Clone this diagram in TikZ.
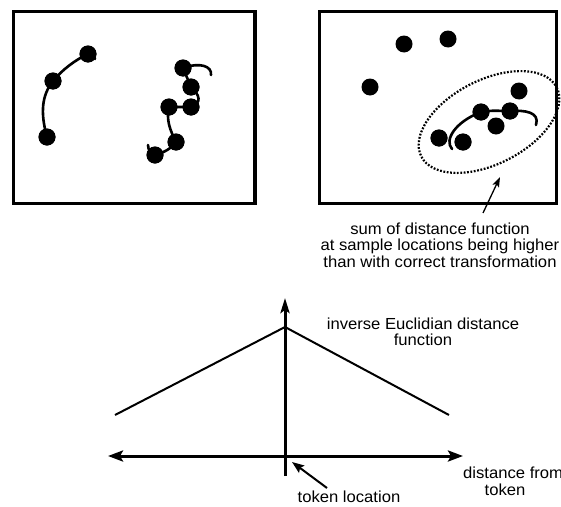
\documentclass[tikz,border=0pt]{standalone}
\usepackage{fontspec}
\setmainfont{Liberation Sans}[FakeStretch=1.04]
\usetikzlibrary{arrows.meta}
\begin{document}
\begin{tikzpicture}[x=1pt,y=-1pt,
  frame/.style={line width=3.2pt},
  blob/.style={circle,fill=black,inner sep=0pt,minimum size=17pt},
  curvy/.style={line width=2.6pt,line cap=round},
  axis/.style={line width=3pt},
  fline/.style={line width=2pt},
  bighead/.style={-{Stealth[length=15pt,width=9pt,inset=3pt]}},
  bothheads/.style={{Stealth[length=15pt,width=11pt,inset=3pt]}-{Stealth[length=15pt,width=11pt,inset=3pt]}},
  thinarrow/.style={line width=1.3pt,-{Stealth[length=10pt,width=7pt,inset=2pt]}},
  tokarrow/.style={line width=2pt,-{Stealth[length=12pt,width=9pt,inset=2pt]}},
  dotline/.style={line width=2.2pt,dash pattern=on 1.8pt off 1.6pt},
  lbl/.style={font=\fontsize{16}{16.5}\selectfont,align=center,inner sep=0pt},
  ]
\useasboundingbox (0,0) rectangle (561,506);

% frames
\draw[frame] (13.7,11.3) rectangle (255,203.7);
\draw[frame] (319.3,11.3) rectangle (556.5,203.5);

% left box, first cluster
\node[blob] (a1) at (88,54) {};
\node[blob] (a2) at (53,81) {};
\node[blob] (a3) at (47,137) {};
\draw[curvy] (a3.center) .. controls (40,112) and (42,95) .. (a2.center)
  .. controls (62,70) and (75,60) .. (a1.center) .. controls (92,53) and (95,56) .. (95,59);

% left box, second cluster
\node[blob] (b1) at (183,68) {};
\node[blob] (b2) at (191,87) {};
\node[blob] (b3) at (191,107) {};
\node[blob] (b4) at (169,107) {};
\node[blob] (b5) at (176,142) {};
\node[blob] (b6) at (155,155) {};
\draw[curvy] (211,75) .. controls (212,66) and (200,62) .. (b1.center)
  -- (b2.center) .. controls (200,95) and (202,103) .. (b3.center)
  -- (b4.center) .. controls (166,120) and (170,130) .. (b5.center)
  .. controls (170,150) and (162,153) .. (b6.center)
  .. controls (151,154) and (148,150) .. (148,145);
\foreach \n in {a1,a2,a3,b1,b2,b3,b4,b5,b6} \fill (\n) circle (8.5pt);

% right box
\node[blob] (c1) at (404,44) {};
\node[blob] (c2) at (448,39) {};
\node[blob] (c3) at (370,87) {};
\node[blob] (c4) at (519,91) {};
\node[blob] (c5) at (481,112) {};
\node[blob] (c6) at (510,111) {};
\node[blob] (c7) at (496,126) {};
\node[blob] (c8) at (439,138) {};
\node[blob] (c9) at (463,142) {};
\draw[curvy] (452,149) .. controls (444,140) and (455,122) .. (c5.center)
  .. controls (490,110) and (500,111) .. (c6.center)
  .. controls (525,110) and (540,112) .. (536,125);
\foreach \n in {c5,c6,c8,c9} \fill (\n) circle (8.5pt);
\draw[dotline, shift={(489,122)}, rotate=27] (0,0) ellipse [x radius=76, y radius=42];

\coordinate (elltip) at (500,177);
\coordinate (elltail) at (483,213);
\draw[thinarrow] (elltail) -- (elltip);
\node[lbl] (sumtxt) at (440,245) {sum of distance function\\at sample locations being higher\\than with correct transformation};

% bottom plot
\coordinate (vbot) at (285,476);
\coordinate (vtop) at (285,298);
\coordinate (hl) at (108,456);
\coordinate (hr) at (463,456);
\coordinate (peak) at (285,327);
\coordinate (fl) at (115,415);
\coordinate (fr) at (449,415);
\draw[fline] (fl) -- (peak) -- (fr);
\draw[axis,bighead] (vbot) -- (vtop);
\draw[axis,bothheads] (hl) -- (hr);

\node[lbl] (inv) at (423,332) {inverse Euclidian distance\\function};
\node[lbl,anchor=base] (tok) at (349,502) {token location};
\coordinate (toktail) at (327,488);
\coordinate (toktip) at (292,462);
\draw[tokarrow] (toktail) -- (toktip);
\node[lbl,anchor=west] (dist1) at (463,473) {distance from};
\node[lbl] (dist2) at (505,490) {token};
\end{tikzpicture}
\end{document}
